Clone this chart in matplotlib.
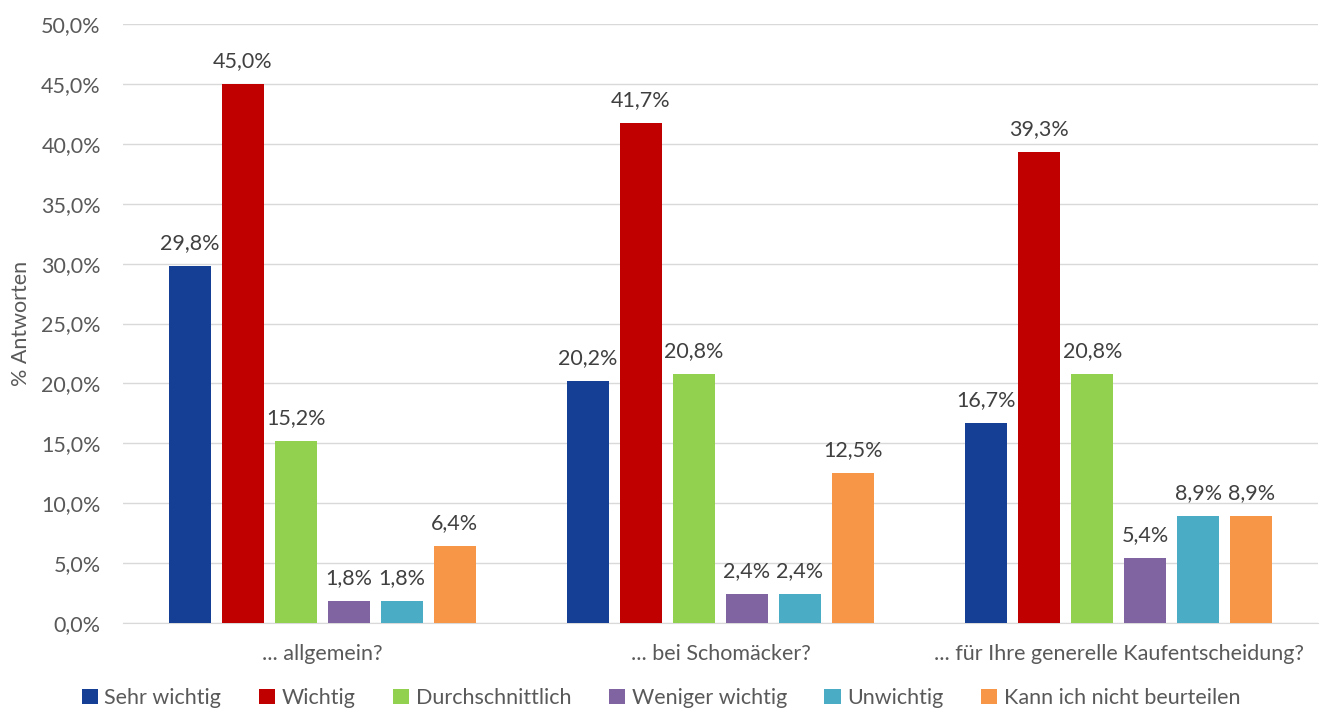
import matplotlib
matplotlib.use("Agg")
import matplotlib.pyplot as plt
import numpy as np

categories = ["... allgemein?", "... bei Schomäcker?", "... für Ihre generelle Kaufentscheidung?"]
series_names = ["Sehr wichtig", "Wichtig", "Durchschnittlich", "Weniger wichtig", "Unwichtig", "Kann ich nicht beurteilen"]
values = [
    [29.8, 20.2, 16.7],
    [45.0, 41.7, 39.3],
    [15.2, 20.8, 20.8],
    [1.8, 2.4, 5.4],
    [1.8, 2.4, 8.9],
    [6.4, 12.5, 8.9],
]
colors = ["#153F94", "#C00000", "#92D050", "#8064A2", "#4BACC6", "#F79646"]
yticks = [0, 5, 10, 15, 20, 25, 30, 35, 40, 45, 50]

plt.rcParams['font.family'] = ['Lato', 'DejaVu Sans']
txt = "#595959"
fs = 15.5

fig = plt.figure(figsize=(13.22, 7.11), dpi=100)
ax = fig.add_axes([123/1322, 1 - 623/711, (1318 - 123)/1322, (623 - 24)/711])

x = np.arange(len(categories))
step = 0.133
width = 0.1054
n = len(series_names)
for i, (name, vals, c) in enumerate(zip(series_names, values, colors)):
    pos = x + (i - (n - 1) / 2) * step
    bars = ax.bar(pos, vals, width=width, color=c, label=name, zorder=3)
    for b, v in zip(bars, vals):
        ax.text(b.get_x() + b.get_width() / 2, v + 1.1, f"{v:.1f}%".replace(".", ","),
                ha="center", va="bottom", fontsize=fs, color="#404040")

ax.set_xlim(-0.5, 2.5)
ax.set_ylim(0, 50)
ax.set_yticks(yticks)
ax.set_yticklabels([f"{t:.1f}%".replace(".", ",") for t in yticks], fontsize=fs, color=txt)
ax.set_xticks(x)
ax.set_xticklabels(categories, fontsize=fs, color=txt)
ax.tick_params(axis="both", length=0)
ax.tick_params(axis="y", pad=16)
ax.tick_params(axis="x", pad=15)
ax.grid(axis="y", color="#D9D9D9", linewidth=1, zorder=0)
for s in ["top", "right", "left"]:
    ax.spines[s].set_visible(False)
ax.spines["bottom"].set_color("#D9D9D9")
ax.set_ylabel("% Antworten", fontsize=fs, color=txt)
ax.yaxis.set_label_coords(-0.077, 0.5)

leg = fig.legend(loc="center", bbox_to_anchor=(0.5, 1 - 698/711), ncol=6, frameon=False,
                 fontsize=fs, handlelength=0.75, handleheight=0.75, handletextpad=0.3,
                 columnspacing=1.75)
for t in leg.get_texts():
    t.set_color(txt)

fig.savefig("out.png", dpi=100)
